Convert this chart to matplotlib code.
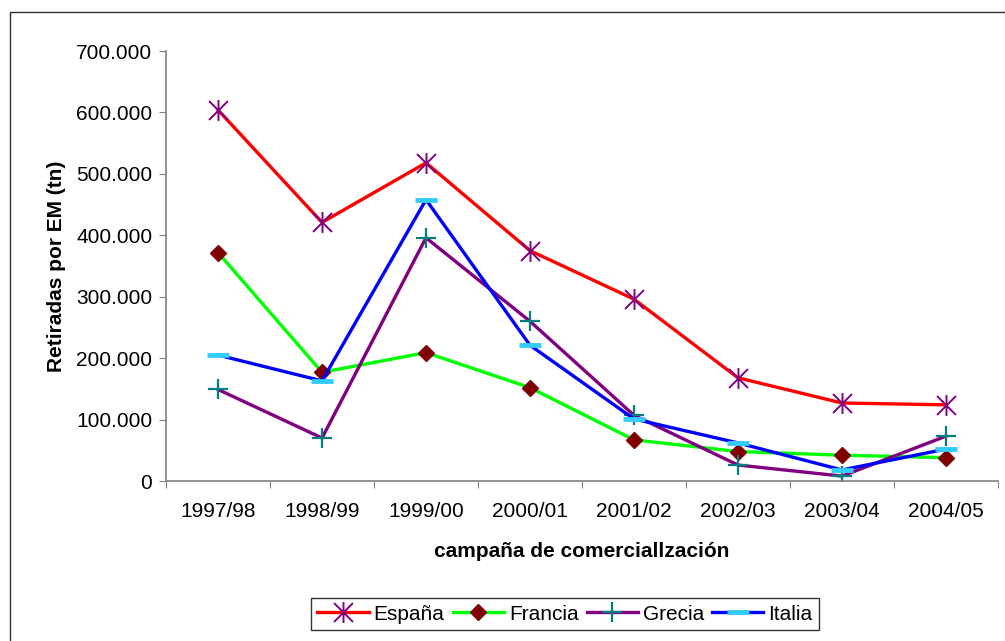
import numpy as np
import matplotlib.pyplot as plt
from matplotlib.path import Path
from matplotlib.patches import Rectangle
from matplotlib.ticker import FuncFormatter, FixedLocator

plt.rcParams['font.family'] = ['Liberation Sans', 'DejaVu Sans']

campanas = ['1997/98', '1998/99', '1999/00', '2000/01', '2001/02', '2002/03', '2003/04', '2004/05']
espana = [604000, 421000, 518000, 375000, 296000, 168000, 127000, 124000]
francia = [372000, 177000, 209000, 152000, 67000, 48000, 42000, 38000]
grecia = [149000, 70000, 396000, 260000, 107000, 26000, 8000, 73000]
italia = [205000, 163000, 458000, 221000, 101000, 62000, 18000, 52000]

# asterisk marker: X plus vertical bar (Excel style)
star = Path([(-1, -1), (1, 1), (-1, 1), (1, -1), (0, -1.1), (0, 1.1)],
            [Path.MOVETO, Path.LINETO, Path.MOVETO, Path.LINETO, Path.MOVETO, Path.LINETO])

fig = plt.figure(figsize=(10.05, 6.41), dpi=100)
ax = fig.add_axes([0.1652, 0.2496, 0.8278, 0.6708])

fs = 15
x = np.arange(len(campanas))
lw = 2.4
ax.plot(x, espana, color='#FF0000', lw=lw, marker=star, ms=15, mec='#800080', mew=1.4, label='España')
ax.plot(x, francia, color='#00FF00', lw=lw, marker='D', ms=8, mfc='#800000', mec='#800000', label='Francia')
ax.plot(x, grecia, color='#800080', lw=lw, marker='+', ms=15, mec='#008080', mew=1.6, label='Grecia')
ax.plot(x, italia, color='#0000FF', lw=lw, marker='_', ms=16, mec='#33CCFF', mew=3.5, label='Italia')

ax.set_xlim(-0.5, len(campanas) - 0.5)
ax.set_ylim(0, 700000)
ax.set_yticks(np.arange(0, 700001, 100000))
ax.yaxis.set_major_formatter(FuncFormatter(lambda v, p: f'{int(v):,}'.replace(',', '.')))

ax.xaxis.set_major_locator(FixedLocator(np.arange(-0.5, len(campanas), 1.0)))
ax.xaxis.set_minor_locator(FixedLocator(x))
ax.set_xticklabels([], minor=False)
ax.set_xticklabels(campanas, minor=True)
ax.tick_params(axis='x', which='minor', length=0, pad=15, labelsize=fs)
ax.tick_params(axis='x', which='major', length=5, color='#808080')
ax.tick_params(axis='y', length=5, color='#808080', labelsize=fs, pad=5)

for s in ['top', 'right']:
    ax.spines[s].set_visible(False)
for s in ['left', 'bottom']:
    ax.spines[s].set_color('#808080')
    ax.spines[s].set_linewidth(1.2)

ax.set_ylabel('Retiradas por EM (tn)', fontsize=fs, fontweight='bold', labelpad=7)
ax.set_xlabel('campaña de comerciallzación', fontsize=fs, fontweight='bold', labelpad=15)

leg = fig.legend(loc='center', bbox_to_anchor=(565 / 1005, 1 - 614 / 641), ncol=4,
                 fontsize=fs, frameon=True, fancybox=False, edgecolor='black',
                 handlelength=2.45, handletextpad=0.24, columnspacing=0.4, borderpad=0.3,
                 borderaxespad=0)
leg.get_frame().set_linewidth(1.0)

# outer chart frame
fig.patches.append(Rectangle((10 / 1005, -0.1), 1.2, 1 - 12 / 641 + 0.1,
                             transform=fig.transFigure, fill=False, edgecolor='#303030', lw=1.0))

fig.savefig('out.png', dpi=100)
